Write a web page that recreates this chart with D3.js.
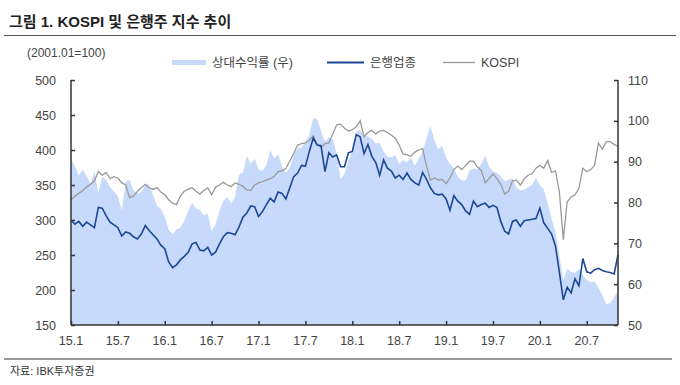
<!DOCTYPE html>
<html>
<head>
<meta charset="utf-8">
<script src="https://cdn.jsdelivr.net/npm/d3@7"></script>
<style>
  body { margin: 0; background: #fff; }
  svg text { font-family: "Liberation Sans", Arial, "Noto Sans CJK KR", sans-serif; }
</style>
</head>
<body>
<div id="chart"></div>
<script>
// 반월 단위 (0.5개월 간격) 데이터, 2015.01 ~ 2020.11
const stepMonths = 0.5;

const tickMonths = [0, 6, 12, 18, 24, 30, 36, 42, 48, 54, 60, 66];
const tickLabels = ["15.1", "15.7", "16.1", "16.7", "17.1", "17.7", "18.1", "18.7", "19.1", "19.7", "20.1", "20.7"];
const leftTicks = [150, 200, 250, 300, 350, 400, 450, 500];
const rightTicks = [50, 60, 70, 80, 90, 100, 110];

// 은행업종 (좌)
const bank = [
  300, 294, 298, 291, 297, 293, 289, 318, 317, 306, 297, 293, 289, 277, 283, 281, 276, 273, 280, 292,
  285, 279, 273, 264, 259, 240, 232, 236, 243, 248, 254, 266, 268, 257, 256, 261, 250, 254, 266, 276,
  282, 281, 279, 290, 304, 310, 320, 319, 305, 312, 322, 331, 326, 340, 338, 330, 346, 362, 367, 378,
  377, 398, 417, 407, 406, 369, 396, 390, 393, 376, 376, 396, 398, 422, 419, 395, 408, 391, 382, 364,
  386, 374, 370, 360, 364, 358, 367, 358, 353, 350, 368, 358, 346, 338, 336, 337, 330, 314, 335, 327,
  322, 313, 308, 327, 319, 322, 324, 318, 321, 318, 298, 284, 280, 298, 300, 291, 299, 300, 301, 302,
  317, 296, 288, 280, 263, 225, 186, 204, 196, 216, 206, 245, 226, 224, 229, 231, 228, 226, 225, 223,
  250
];

// KOSPI (좌)
const kospi = [
  329, 334, 338, 342, 347, 351, 356, 369, 364, 368, 359, 362, 360, 353, 350, 332, 334, 341, 346, 351,
  346, 344, 346, 340, 336, 329, 324, 322, 334, 341, 344, 346, 341, 337, 342, 346, 336, 347, 350, 354,
  350, 348, 353, 351, 348, 343, 342, 350, 353, 355, 357, 359, 362, 369, 370, 374, 384, 395, 407, 409,
  410, 414, 420, 408, 404, 409, 410, 423, 436, 437, 431, 427, 429, 433, 442, 419, 425, 428, 423, 427,
  428, 425, 421, 417, 407, 394, 393, 391, 397, 400, 402, 377, 357, 360, 357, 358, 352, 360, 372, 377,
  372, 378, 384, 384, 376, 371, 353, 359, 366, 359, 351, 337, 341, 356, 357, 350, 359, 364, 366, 374,
  378, 374, 385, 368, 370, 340, 272, 326, 333, 336, 345, 374, 369, 372, 378, 410, 401, 412, 412, 408,
  405
];

// 상대수익률 (우)
const relative = [
  90.6, 89.0, 86.6, 88.0, 86.5, 84.6, 87.6, 82.3, 86.3, 85.6, 83.8, 82.7, 81.6, 78.0, 85.2, 85.6, 83.0, 82.2, 82.6, 84.3,
  84.5, 81.8, 79.2, 78.5, 76.5, 73.3, 72.2, 73.4, 73.8, 75.5, 78.0, 80.0, 78.5, 78.2, 76.8, 77.3, 73.0, 74.6, 78.0, 80.4,
  81.3, 79.8, 81.5, 86.8, 87.4, 91.4, 89.4, 90.8, 88.0, 87.8, 89.2, 92.8, 90.8, 91.8, 88.9, 87.2, 88.5, 91.5, 93.3, 93.5,
  94.8, 96.6, 100.7, 100.4, 97.5, 94.8, 96.0, 95.5, 91.8, 85.8, 87.0, 90.3, 92.8, 97.3, 97.8, 96.2, 96.2, 95.6, 94.5, 94.6,
  92.5, 91.2, 91.0, 91.6, 89.4, 90.4, 89.8, 91.0, 89.0, 90.8, 92.5, 95.8, 98.8, 95.3, 93.0, 94.0, 91.0, 89.5, 88.4, 86.3,
  85.4, 85.4, 87.8, 88.3, 88.2, 89.4, 91.5, 88.8, 87.6, 87.3, 86.4, 85.2, 85.5, 86.0, 83.6, 83.0, 83.1, 83.8, 84.3, 86.0,
  84.2, 83.2, 79.8, 76.0, 72.7, 67.0, 61.0, 63.8, 63.0, 62.8, 63.7, 62.2, 61.0, 60.5, 60.6, 59.1, 57.2, 55.0, 55.4, 56.8,
  58.3
];

const width = 680, height = 385;
const margin = { top: 80, right: 62, bottom: 60, left: 71 };
const innerW = width - margin.left - margin.right;
const innerH = height - margin.top - margin.bottom;

const svg = d3.select("#chart").append("svg")
  .attr("width", width)
  .attr("height", height);

const x = d3.scaleLinear()
  .domain([0, (bank.length - 1) * stepMonths])
  .range([margin.left, margin.left + innerW]);
const yL = d3.scaleLinear().domain([150, 500]).range([margin.top + innerH, margin.top]);
const yR = d3.scaleLinear().domain([50, 110]).range([margin.top + innerH, margin.top]);

// title
svg.append("text")
  .attr("x", 9).attr("y", 27)
  .attr("font-size", 15).attr("font-weight", "bold").attr("fill", "#222")
  .text("그림 1. KOSPI 및 은행주 지수 추이");
svg.append("line")
  .attr("x1", 4).attr("x2", 676).attr("y1", 35.5).attr("y2", 35.5)
  .attr("stroke", "#555").attr("stroke-width", 1);

// unit + legend
svg.append("text")
  .attr("x", 27).attr("y", 57)
  .attr("font-size", 12).attr("fill", "#444")
  .text("(2001.01=100)");

const legend = [
  { label: "상대수익률 (우)", x: 172, color: "#c8dafb", w: 5, len: 34 },
  { label: "은행업종", x: 327, color: "#1c4797", w: 2, len: 37 },
  { label: "KOSPI", x: 443, color: "#999", w: 1.3, len: 32 }
];
legend.forEach(d => {
  svg.append("line")
    .attr("x1", d.x).attr("x2", d.x + d.len).attr("y1", 62.5).attr("y2", 62.5)
    .attr("stroke", d.color).attr("stroke-width", d.w);
  svg.append("text")
    .attr("x", d.x + d.len + 6).attr("y", 67)
    .attr("font-size", 12.5).attr("fill", "#444")
    .text(d.label);
});

// area (우)
const area = d3.area()
  .x((d, i) => x(i * stepMonths))
  .y0(yR(50))
  .y1(d => yR(d));
svg.append("path")
  .datum(relative)
  .attr("fill", "#c8dafb")
  .attr("d", area);

const lineL = d3.line()
  .x((d, i) => x(i * stepMonths))
  .y(d => yL(d));

svg.append("path")
  .datum(kospi)
  .attr("fill", "none")
  .attr("stroke", "#999")
  .attr("stroke-width", 1.3)
  .attr("d", lineL);

svg.append("path")
  .datum(bank)
  .attr("fill", "none")
  .attr("stroke", "#1c4797")
  .attr("stroke-width", 1.6)
  .attr("d", lineL);

// axes
const axisColor = "#333";
const left = svg.append("g")
  .attr("transform", `translate(${margin.left},0)`)
  .call(d3.axisRight(yL).tickValues(leftTicks).tickSize(4).tickFormat(""));
const right = svg.append("g")
  .attr("transform", `translate(${margin.left + innerW},0)`)
  .call(d3.axisLeft(yR).tickValues(rightTicks).tickSize(4).tickFormat(""));
const bottom = svg.append("g")
  .attr("transform", `translate(0,${margin.top + innerH})`)
  .call(d3.axisTop(x).tickValues(tickMonths).tickSize(4).tickFormat(""));
[left, right, bottom].forEach(g => {
  g.select(".domain").attr("stroke", axisColor).attr("stroke-width", 1.5);
  g.selectAll(".tick line").attr("stroke", axisColor).attr("stroke-width", 1.5);
});
left.select(".domain").attr("d", `M0,${margin.top}V${margin.top + innerH}`);
right.select(".domain").attr("d", `M0,${margin.top}V${margin.top + innerH}`);
bottom.select(".domain").attr("d", `M${margin.left},0H${margin.left + innerW}`);

svg.selectAll(".lt").data(leftTicks).enter().append("text")
  .attr("x", 56).attr("y", d => yL(d) + 4.5)
  .attr("text-anchor", "end").attr("font-size", 12.5).attr("fill", "#444")
  .text(d => d);
svg.selectAll(".rt").data(rightTicks).enter().append("text")
  .attr("x", 628).attr("y", d => yR(d) + 4.5)
  .attr("font-size", 12.5).attr("fill", "#444")
  .text(d => d);
svg.selectAll(".xt").data(tickMonths).enter().append("text")
  .attr("x", d => x(d)).attr("y", 345)
  .attr("text-anchor", "middle").attr("font-size", 12.5).attr("fill", "#444")
  .text((d, i) => tickLabels[i]);

// source
svg.append("line")
  .attr("x1", 4).attr("x2", 672).attr("y1", 359).attr("y2", 359)
  .attr("stroke", "#999").attr("stroke-width", 2);
svg.append("text")
  .attr("x", 10).attr("y", 375)
  .attr("font-size", 11).attr("fill", "#333")
  .text("자료: IBK투자증권");
</script>
</body>
</html>
